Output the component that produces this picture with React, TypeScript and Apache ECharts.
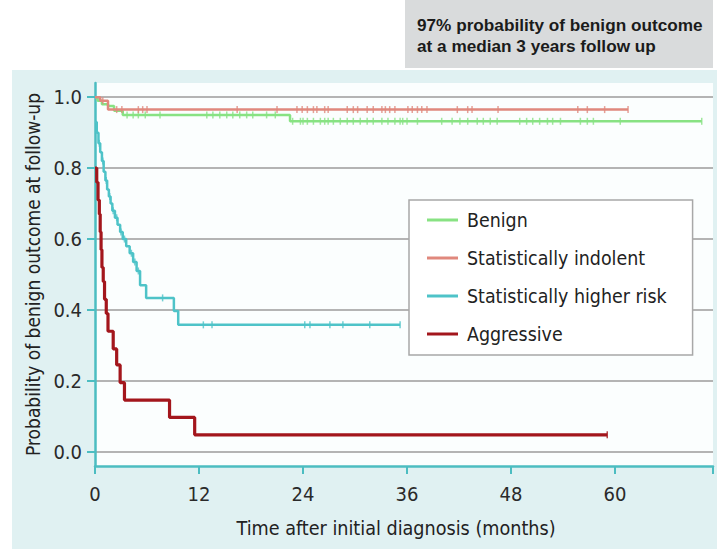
import React, { useEffect, useRef } from "react";
import * as echarts from "echarts";

// ---------- data ----------
const seriesNames = ["Benign", "Statistically indolent", "Statistically higher risk", "Aggressive"];

const benignT = [0, 0.3, 0.8, 1.5, 2.2, 3.2, 22.5, 70.0];
const benignP = [1.0, 0.99, 0.98, 0.975, 0.962, 0.95, 0.932, 0.932];
const benignCensor = [3.7, 4.4, 5.0, 5.8, 7.5, 12.9, 13.6, 14.4, 15.2, 15.9, 16.7, 17.5, 18.2, 19.8, 20.8, 22.8, 23.7, 24.0, 24.5, 25.2, 26.0, 26.5, 26.9, 27.5, 28.3, 29.1, 29.8, 30.6, 31.4, 32.1, 33.1, 33.8, 34.6, 35.2, 35.5, 36.0, 37.2, 40.0, 41.2, 42.1, 43.0, 44.1, 44.8, 45.6, 46.4, 49.0, 49.8, 50.5, 51.3, 52.2, 52.8, 53.7, 56.0, 56.8, 57.5, 60.6, 70.0];

const indolentT = [0, 0.6, 1.5, 61.5];
const indolentP = [1.0, 0.99, 0.965, 0.965];
const indolentCensor = [0.9, 2.5, 3.1, 5.0, 5.5, 6.0, 16.4, 21.0, 23.3, 23.9, 24.5, 25.2, 25.6, 26.5, 26.9, 29.1, 29.8, 30.3, 31.4, 32.1, 33.1, 33.5, 34.0, 34.6, 36.1, 36.6, 37.2, 37.7, 38.3, 41.8, 43.0, 43.5, 46.5, 55.7, 56.8, 58.8, 61.5];

const higherT = [0, 0.2, 0.4, 0.6, 0.8, 1.0, 1.2, 1.4, 1.6, 1.8, 2.0, 2.3, 2.6, 2.9, 3.2, 3.6, 4.0, 4.4, 4.8, 5.2, 5.9, 9.1, 9.6, 35.2];
const higherP = [0.93, 0.9, 0.87, 0.845, 0.82, 0.79, 0.765, 0.74, 0.72, 0.7, 0.68, 0.66, 0.64, 0.62, 0.6, 0.58, 0.56, 0.535, 0.51, 0.47, 0.434, 0.397, 0.358, 0.358];
const higherCensor = [0.5, 0.9, 1.3, 1.7, 2.1, 2.5, 3.0, 3.4, 4.2, 4.6, 5.0, 7.8, 12.5, 13.5, 24.2, 24.8, 27.1, 28.6, 31.7, 35.2];

const aggressiveT = [0, 0.2, 0.35, 0.5, 0.6, 0.7, 0.8, 0.95, 1.1, 1.3, 1.5, 2.1, 2.5, 2.9, 3.4, 8.6, 11.5, 59.1];
const aggressiveP = [0.8, 0.76, 0.71, 0.67, 0.62, 0.57, 0.52, 0.48, 0.43, 0.39, 0.34, 0.29, 0.245, 0.195, 0.146, 0.097, 0.048, 0.048];
const aggressiveCensor = [59.1];

const xTicks = [0, 12, 24, 36, 48, 60];
const yTicks = [0, 0.2, 0.4, 0.6, 0.8, 1.0];

const noteLines = ["97% probability of benign outcome", "at a median 3 years follow up"];

// ---------- styles ----------
const colors = ["#88e283", "#e0887d", "#4ec3c8", "#a3161c"];
const teal = "#4cbdc1";
const FONT = "'DejaVu Sans Condensed', 'DejaVu Sans', sans-serif";

function pairs(t: number[], p: number[]) {
  return t.map((x, i) => [x, p[i]]);
}
function valueAt(t: number[], p: number[], x: number) {
  let v = p[0];
  for (let i = 0; i < t.length; i++) if (t[i] <= x) v = p[i];
  return v;
}

export default function App() {
  const ref = useRef<HTMLDivElement>(null);
  useEffect(() => {
    if (!ref.current) return;
    const chart = echarts.init(ref.current, undefined, { renderer: "svg" });
    const curves = [
      { t: benignT, p: benignP, c: benignCensor, w: 2.5 },
      { t: indolentT, p: indolentP, c: indolentCensor, w: 2.5 },
      { t: higherT, p: higherP, c: higherCensor, w: 2.5 },
      { t: aggressiveT, p: aggressiveP, c: aggressiveCensor, w: 3.2 },
    ];
    const lineSeries = curves.map((cv, i) => ({
      name: seriesNames[i],
      type: "line",
      step: "end",
      data: pairs(cv.t, cv.p),
      showSymbol: false,
      symbol: "none",
      lineStyle: { color: colors[i], width: cv.w },
      itemStyle: { color: colors[i] },
      z: 3 + (i === 3 ? 1 : 0),
    }));
    const censorSeries = curves.map((cv, i) => ({
      name: seriesNames[i] + " censored",
      type: "scatter",
      data: cv.c.map((x) => [x, valueAt(cv.t, cv.p, x)]),
      symbol: "rect",
      symbolSize: [1.5, 7],
      itemStyle: { color: colors[i] },
      silent: true,
      z: 3,
    }));

    chart.setOption({
      animation: false,
      backgroundColor: "#ffffff",
      textStyle: { fontFamily: FONT },
      graphic: [
        { type: "rect", z: -10, silent: true, shape: { x: 12, y: 70, width: 705, height: 479 }, style: { fill: "#e0f1f2" } },
        { type: "rect", z: -9, silent: true, shape: { x: 95, y: 83, width: 618, height: 383 }, style: { fill: "#fbfefe" } },
        { type: "rect", z: -9, silent: true, shape: { x: 405, y: 0, width: 308, height: 68 }, style: { fill: "#d9dbdc" } },
        {
          type: "text", silent: true, x: 417, y: 25,
          style: { text: noteLines[0], fill: "#1b1b1b", font: "bold 17.2px 'Liberation Sans', Arial, sans-serif", verticalAlign: "middle" },
        },
        {
          type: "text", silent: true, x: 417, y: 46,
          style: { text: noteLines[1], fill: "#1b1b1b", font: "bold 17.2px 'Liberation Sans', Arial, sans-serif", verticalAlign: "middle" },
        },
      ],
      grid: { left: 95, right: 4, top: 83, bottom: 83, containLabel: false },
      legend: {
        data: seriesNames,
        orient: "vertical",
        left: 409,
        top: 200,
        icon: "rect",
        itemWidth: 31,
        itemHeight: 3,
        itemGap: 16,
        padding: [9, 26, 10, 18],
        backgroundColor: "#ffffff",
        borderColor: "#a8a8a8",
        borderWidth: 1.5,
        selectedMode: false,
        textStyle: { fontSize: 19.4, fontFamily: FONT, color: "#222222", lineHeight: 22, padding: [0, 0, 0, 4] },
      },
      xAxis: {
        type: "value",
        min: 0,
        max: 71.3,
        interval: 12,
        name: "Time after initial diagnosis (months)",
        nameLocation: "middle",
        nameGap: 52,
        nameTextStyle: { fontSize: 19.6, fontFamily: FONT, color: "#222222", padding: [0, 16, 0, 0] },
        axisLine: { show: true, onZero: false, lineStyle: { color: teal, width: 2.5 } },
        axisTick: { show: true, length: 8, inside: false, lineStyle: { color: teal, width: 2 } },
        axisLabel: {
          margin: 18, fontSize: 20, fontFamily: FONT, color: "#2a2a2a",
          customValues: xTicks,
        },
        splitLine: { show: false },
      },
      yAxis: {
        type: "value",
        min: -0.04,
        max: 1.04,
        name: "Probability of benign outcome at follow-up",
        nameLocation: "middle",
        nameGap: 50,
        nameTextStyle: { fontSize: 19, fontFamily: FONT, color: "#222222" },
        axisLine: { show: true, onZero: false, lineStyle: { color: teal, width: 2.5 } },
        axisTick: { show: true, length: 8, customValues: yTicks, lineStyle: { color: teal, width: 2 } },
        axisLabel: {
          margin: 13, fontSize: 20, fontFamily: FONT, color: "#2a2a2a",
          customValues: yTicks,
          formatter: (v: number) => v.toFixed(1),
        },
        splitLine: { show: true, lineStyle: { color: "#b4b4b4", width: 2 } },
      },
      series: [...lineSeries, ...censorSeries],
    });
    return () => chart.dispose();
  }, []);
  return <div ref={ref} style={{ position: "absolute", left: 0, top: 0, width: 717, height: 549 }} />;
}
